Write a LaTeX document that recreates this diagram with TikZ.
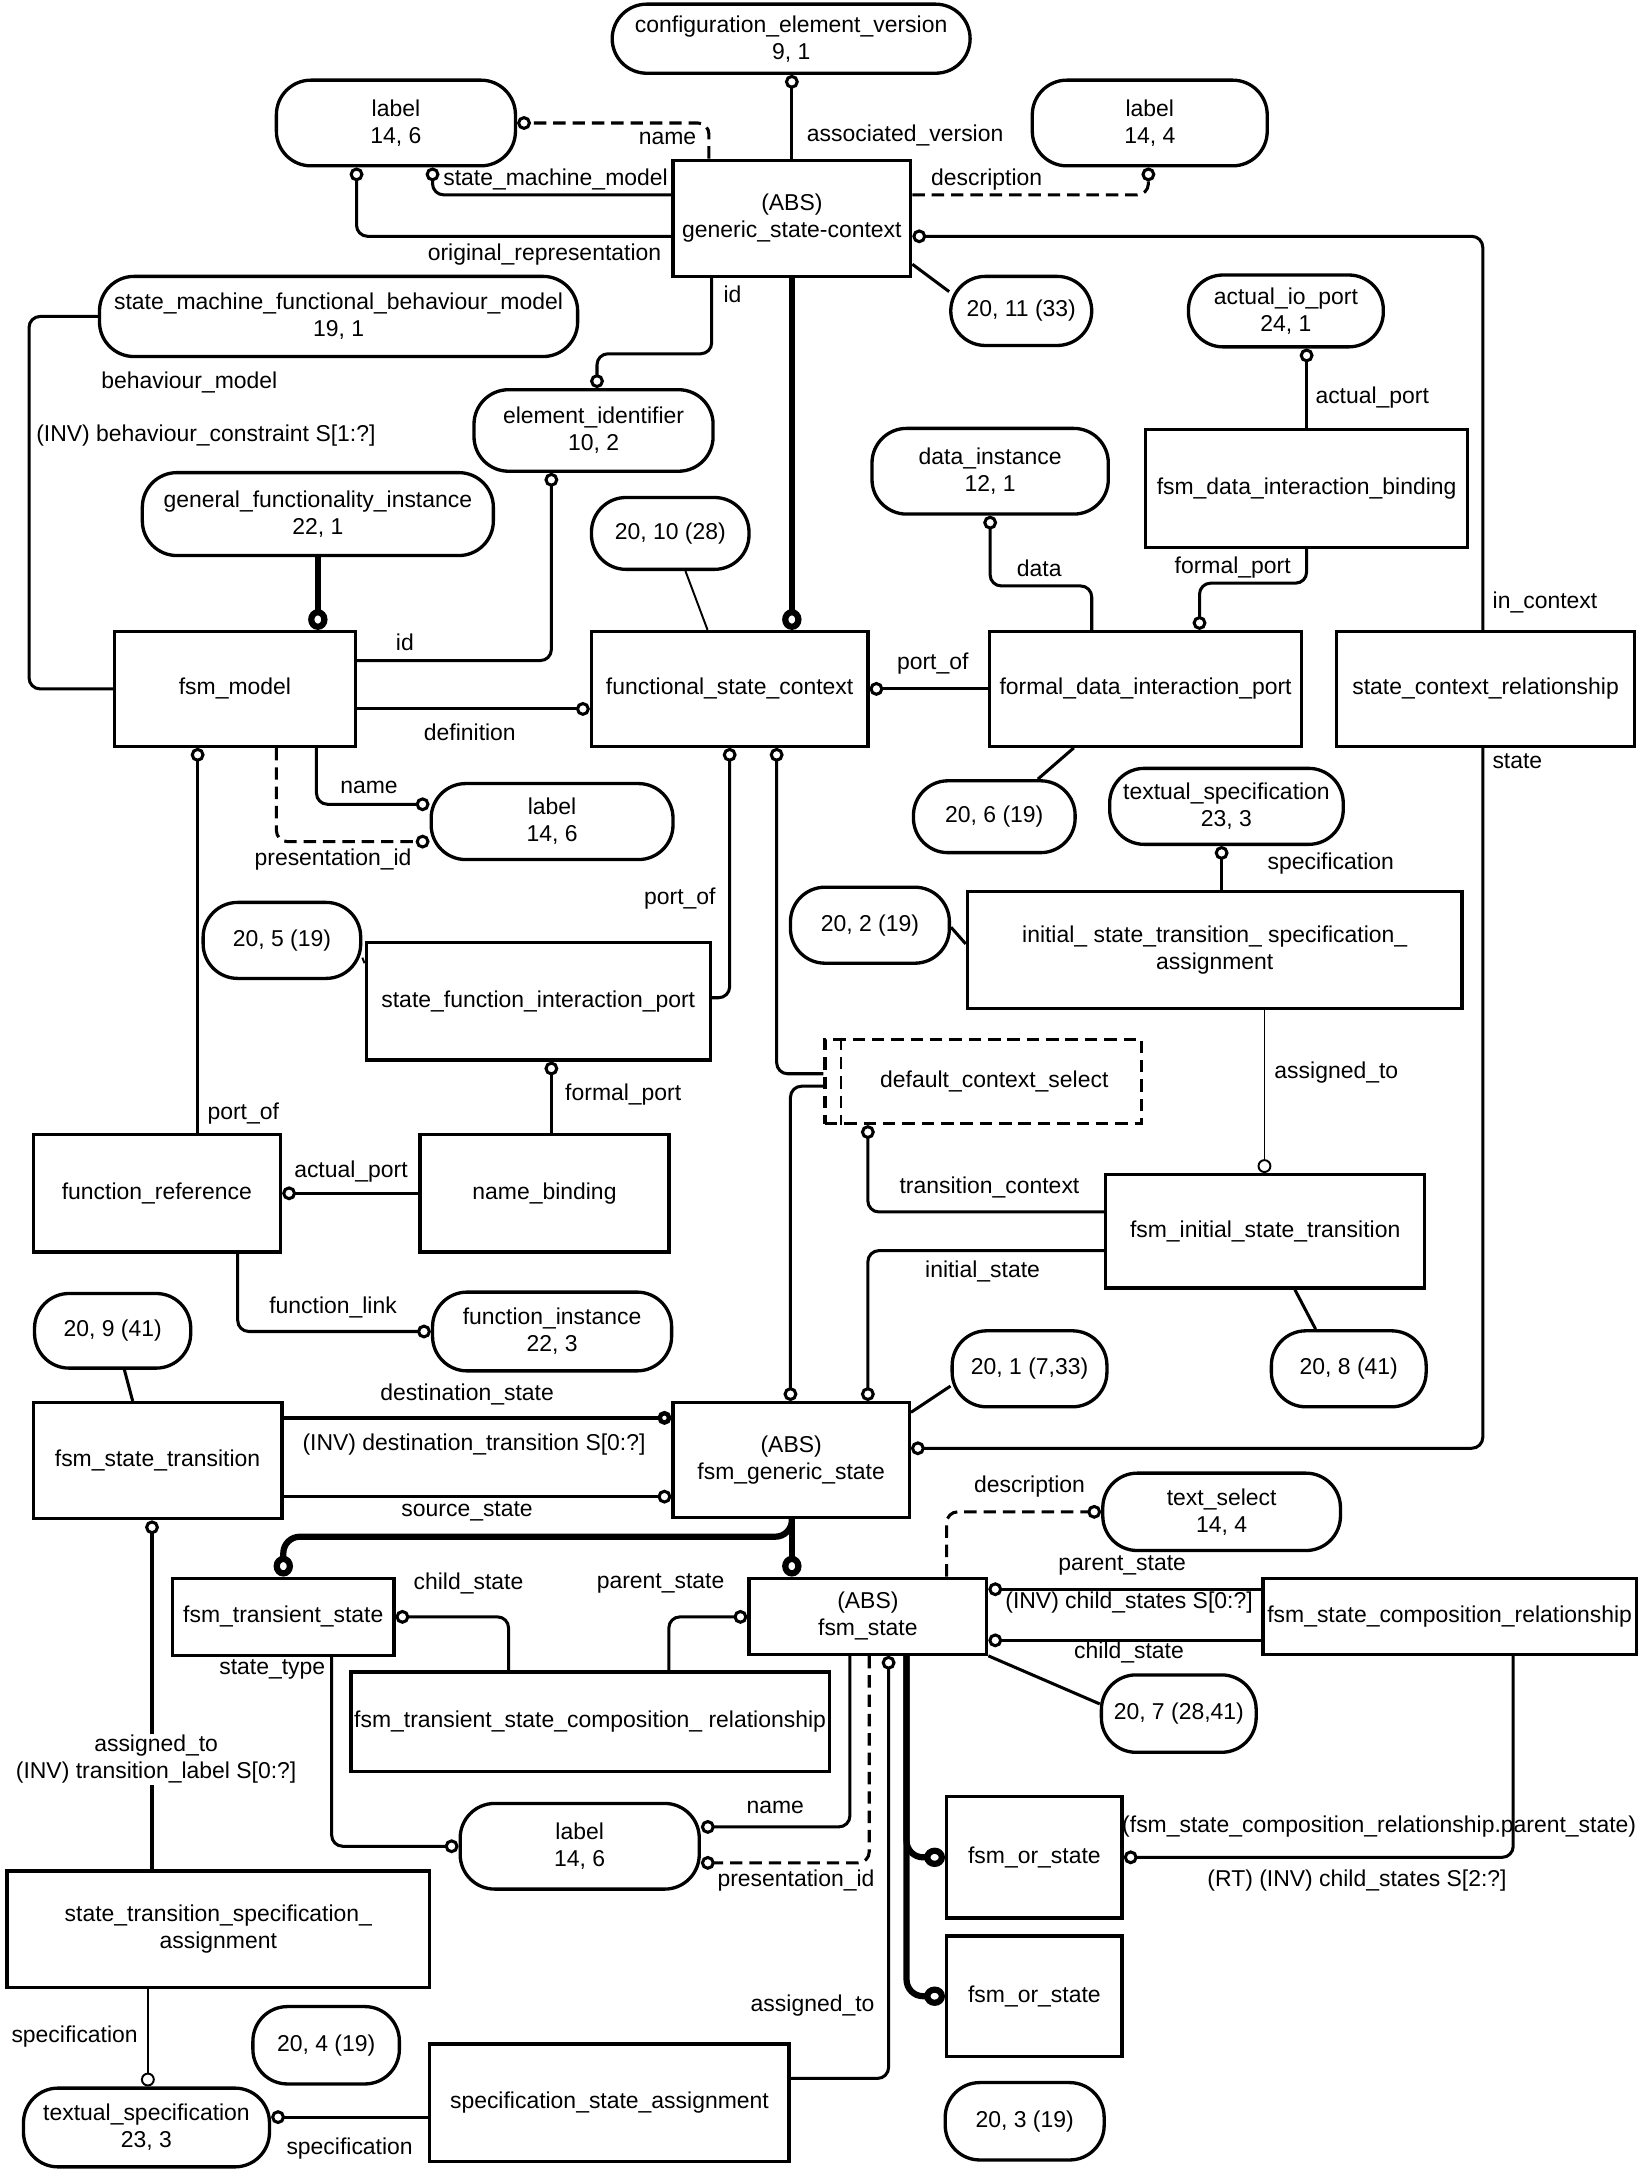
\documentclass[tikz,border=0pt]{standalone}
\usepackage{fontspec}
\setmainfont{Liberation Sans}
\usetikzlibrary{arrows.meta}
\begin{document}
\begin{tikzpicture}[x=1pt,y=-1pt,
  font=\fontsize{16.6pt}{19.5pt}\selectfont,
  ebox/.style={draw,line width=2.4pt,rectangle,align=center,inner sep=1pt},
  pill/.style={draw,line width=2.4pt,rounded corners=25pt,align=center,inner sep=1pt},
  conn/.style={line width=2.2pt,rounded corners=8pt},
  thinl/.style={line width=1.4pt,rounded corners=8pt},
  medl/.style={line width=3.2pt},
  thickl/.style={line width=4.5pt,rounded corners=12pt},
  dsh/.style={dash pattern=on 9pt off 5pt},
  oc/.style={-{Circle[open,length=10pt,width=10pt]}},
  toc/.style={-{Circle[open,length=15pt,width=14pt]}},
  lbl/.style={inner sep=1pt},
]
\useasboundingbox (0,0) rectangle (1188,1571);

% ---------- entity pills ----------
\node[pill,minimum width=259pt,minimum height=50pt] (cev) at (572.5,28) {configuration\_element\_version\\9, 1};
\node[pill,minimum width=173pt,minimum height=62pt] (lbl1) at (286.5,89) {label\\14, 6};
\node[pill,minimum width=170pt,minimum height=62pt] (lbl2) at (832,89) {label\\14, 4};
\node[pill,minimum width=102pt,minimum height=50pt] (p2011) at (739,225) {20, 11 (33)};
\node[pill,minimum width=346pt,minimum height=58pt] (smfbm) at (245,229) {state\_machine\_functional\_behaviour\_model\\19, 1};
\node[pill,minimum width=141pt,minimum height=52pt] (aiop) at (930.5,225) {actual\_io\_port\\24, 1};
\node[pill,minimum width=173pt,minimum height=59pt] (eid) at (429.5,311.5) {element\_identifier\\10, 2};
\node[pill,minimum width=254pt,minimum height=60pt] (gfi) at (230,372) {general\_functionality\_instance\\22, 1};
\node[pill,minimum width=171pt,minimum height=62pt] (dinst) at (716.5,341) {data\_instance\\12, 1};
\node[pill,minimum width=114pt,minimum height=52pt] (p2010) at (485,386) {20, 10 (28)};
\node[pill,minimum width=117pt,minimum height=52pt] (p206) at (719.5,591) {20, 6 (19)};
\node[pill,minimum width=175pt,minimum height=55pt] (lbl3) at (399.5,594.5) {label\\14, 6};
\node[pill,minimum width=169pt,minimum height=55pt] (ts1) at (887.5,583.5) {textual\_specification\\23, 3};
\node[pill,minimum width=114pt,minimum height=55pt] (p205) at (204,680.5) {20, 5 (19)};
\node[pill,minimum width=115pt,minimum height=55pt] (p202) at (629.5,669.5) {20, 2 (19)};
\node[pill,minimum width=173pt,minimum height=57pt] (fi) at (399.5,963.5) {function\_instance\\22, 3};
\node[pill,minimum width=113pt,minimum height=54pt] (p209) at (81.5,963) {20, 9 (41)};
\node[pill,minimum width=112pt,minimum height=55pt] (p201) at (745,990.5) {20, 1 (7,33)};
\node[pill,minimum width=112pt,minimum height=55pt] (p208) at (976,990.5) {20, 8 (41)};
\node[pill,minimum width=172pt,minimum height=56pt] (tsel) at (884,1094) {text\_select\\14, 4};
\node[pill,minimum width=112pt,minimum height=56pt] (p207) at (853,1240) {20, 7 (28,41)};
\node[pill,minimum width=173pt,minimum height=62pt] (lbl4) at (419.5,1336) {label\\14, 6};
\node[pill,minimum width=106pt,minimum height=56pt] (p204) at (236,1480) {20, 4 (19)};
\node[pill,minimum width=115pt,minimum height=56pt] (p203) at (741.5,1535) {20, 3 (19)};
\node[pill,minimum width=178pt,minimum height=57pt] (ts2) at (106,1539.5) {textual\_specification\\23, 3};

% ---------- entity boxes ----------
\node[ebox,minimum width=172pt,minimum height=84pt] (gsc) at (573,158) {(ABS)\\generic\_state-context};
\node[ebox,minimum width=233pt,minimum height=85pt] (fdib) at (945.5,353.5) {fsm\_data\_interaction\_binding};
\node[ebox,minimum width=174pt,minimum height=83pt] (fsmm) at (170,498.5) {fsm\_model};
\node[ebox,minimum width=200pt,minimum height=83pt] (fsc) at (528,498.5) {functional\_state\_context};
\node[ebox,minimum width=226pt,minimum height=83pt] (fdip) at (829,498.5) {formal\_data\_interaction\_port};
\node[ebox,minimum width=216pt,minimum height=83pt] (scr) at (1075,498.5) {state\_context\_relationship};
\node[ebox,minimum width=358pt,minimum height=85pt] (istsa) at (879,687.5) {initial\_ state\_transition\_ specification\_\\assignment};
\node[ebox,minimum width=249pt,minimum height=85pt] (sfip) at (389.5,724.5) {state\_function\_interaction\_port};
\node[ebox,dsh,minimum width=229pt,minimum height=61pt] (dcs) at (711.5,782.5) {\hspace*{16pt}default\_context\_select};
\draw[line width=1.5pt,dsh] ([xshift=13pt]dcs.north west) -- ([xshift=13pt]dcs.south west);
\node[ebox,minimum width=179pt,minimum height=85pt] (fr) at (113.5,863.5) {function\_reference};
\node[ebox,minimum width=180pt,minimum height=85pt] (nb) at (394,863.5) {name\_binding};
\node[ebox,minimum width=231pt,minimum height=82pt] (fist) at (915.5,891) {fsm\_initial\_state\_transition};
\node[ebox,minimum width=180pt,minimum height=84pt] (fst) at (114,1057) {fsm\_state\_transition};
\node[ebox,minimum width=171pt,minimum height=83pt] (fgs) at (572.5,1056.5) {(ABS)\\fsm\_generic\_state};
\node[ebox,minimum width=160pt,minimum height=56pt] (ftrs) at (205,1170) {fsm\_transient\_state};
\node[ebox,minimum width=172pt,minimum height=55pt] (fs) at (628,1169.5) {(ABS)\\fsm\_state};
\node[ebox,minimum width=270pt,minimum height=55pt] (fscr) at (1049,1169.5) {fsm\_state\_composition\_relationship};
\node[ebox,minimum width=346pt,minimum height=72pt] (ftscr) at (427,1246) {fsm\_transient\_state\_composition\_ relationship};
\node[ebox,minimum width=127pt,minimum height=88pt] (fos1) at (748.5,1344) {fsm\_or\_state};
\node[ebox,minimum width=127pt,minimum height=87pt] (fos2) at (748.5,1444.5) {fsm\_or\_state};
\node[ebox,minimum width=306pt,minimum height=84pt] (stsa) at (158,1396) {state\_transition\_specification\_\\assignment};
\node[ebox,minimum width=260pt,minimum height=85pt] (ssa) at (441,1521.5) {specification\_state\_assignment};

% ---------- connectors ----------
\draw[conn,oc] (gsc.north) -- (gsc.north |- cev.south);
\draw[conn,dsh,oc] (513,0 |- gsc.north) |- (lbl1.east);
\draw[conn,oc] (gsc.west |- 0,141) -| (313,0 |- lbl1.south);
\draw[conn,oc] (gsc.west |- 0,171) -| (258,0 |- lbl1.south);
\draw[conn,dsh,oc] (gsc.east |- 0,141) -| (831,0 |- lbl2.south);
\draw[conn,oc] (1073,0 |- scr.north) |- (gsc.east |- 0,171);
\draw[conn] ([yshift=10pt]gsc.south east) -- (p2011.165);
\draw[thickl,toc] (gsc.south) -- (gsc.south |- fsc.north);
\draw[conn,oc] (515,0 |- gsc.south) |- (432,256) -- (432,0 |- eid.north);
\draw[conn] (smfbm.west) -| (21,498.5) -- (fsmm.west);
\draw[thickl,toc] (gfi.south) -- (gfi.south |- fsmm.north);
\draw[conn,oc] (fsmm.east |- 0,478) -| (399,0 |- eid.south);
\draw[thinl] (496,0 |- p2010.south) -- (512,0 |- fsc.north);
\draw[conn,oc] (fsmm.east |- 0,513) -- (fsc.west |- 0,513);
\draw[conn,oc] (fdip.west) -- (fsc.east);
\draw[conn,oc] (790,0 |- fdip.north) |- (dinst.south |- 0,424) -- (dinst.south);
\draw[conn,oc] (fdib.south) |- (868,422) -- (868,0 |- fdip.north);
\draw[conn,oc] (fdib.north) -- (fdib.north |- aiop.south);
\draw[conn] (777,0 |- fdip.south) -- (751,0 |- p206.north);
\draw[conn,oc] (1073,0 |- scr.south) |- (fgs.east |- 0,1048);
\draw[conn,oc] (143,0 |- fr.north) -- (143,0 |- fsmm.south);
\draw[conn,oc] (229,0 |- fsmm.south) |- (lbl3.west |- 0,582);
\draw[conn,dsh,oc] (200,0 |- fsmm.south) |- (lbl3.west |- 0,609);
\draw[conn,oc] (sfip.east |- 0,722) -| (528,0 |- fsc.south);
\draw[conn,oc] (dcs.west |- 0,777) -| (562,0 |- fsc.south);
\draw[conn,oc] (dcs.west |- 0,786) -| (572,0 |- fgs.north);
\draw[conn,oc] (399,0 |- nb.north) -- (399,0 |- sfip.south);
\draw[conn,oc] (nb.west) -- (fr.east);
\draw[conn,oc] (172,0 |- fr.south) |- (fi.west);
\draw[thinl] (p205.east |- 0,693) -- (sfip.west |- 0,697);
\draw[conn,oc] (884,0 |- istsa.north) -- (884,0 |- ts1.south);
\draw[conn] (p202.east |- 0,671) -- (istsa.west |- 0,683);
\draw[thinl,oc] (915,0 |- istsa.south) -- (915,0 |- fist.north);
\draw[conn,oc] (fist.west |- 0,877) -| (628,0 |- dcs.south);
\draw[conn,oc] (fist.west |- 0,905) -| (628,0 |- fgs.north);
\draw[conn] (937,0 |- fist.south) -- (952,0 |- p208.north);
\draw[conn] (fgs.east |- 0,1022) -- (p201.west |- 0,1003);
\draw[conn] (90,0 |- p209.south) -- (96,0 |- fst.north);
\draw[medl,oc] (fst.east |- 0,1026) -- (fgs.west |- 0,1026);
\draw[conn,oc] (fst.east |- 0,1083) -- (fgs.west |- 0,1083);
\draw[thickl,toc] (573,0 |- fgs.south) -- (573,0 |- fs.north);
\draw[thickl,toc] (573,0 |- fgs.south) |- (205,1112) -- (ftrs.north);
\draw[conn,oc] (368,0 |- ftscr.north) |- (ftrs.east);
\draw[conn,oc] (484,0 |- ftscr.north) |- (fs.west |- 0,1170);
\draw[conn,oc] (240,0 |- ftrs.south) |- (lbl4.west);
\draw[conn,oc] (615,0 |- fs.south) |- (lbl4.east |- 0,1322);
\draw[conn,dsh,oc] (629,0 |- fs.south) |- (lbl4.east |- 0,1348);
\draw[conn,oc] (ssa.east |- 0,1504) -| (643,0 |- fs.south);
\draw[thickl,toc] (656,0 |- fs.south) |- (fos1.west);
\draw[thickl,toc] (656,0 |- fs.south) |- (fos2.west);
\draw[conn,dsh,oc] (685,0 |- fs.north) |- (tsel.west);
\draw[conn,oc] (fscr.west |- 0,1150) -- (fs.east |- 0,1150);
\draw[conn,oc] (fscr.west |- 0,1187) -- (fs.east |- 0,1187);
\draw[conn] (fs.south east) -- (p207.west |- 0,1233);
\draw[conn,oc] (1095,0 |- fscr.south) |- (fos1.east);
\draw[conn,oc] (110,0 |- stsa.north) -- (110,0 |- fst.south);
\draw[thinl,oc] (107,0 |- stsa.south) -- (107,0 |- ts2.north);
\draw[conn,oc] (ssa.west |- 0,1532) -- (ts2.east |- 0,1532);

% ---------- role labels ----------
\node[lbl] (t1) at (655,98) {associated\_version};
\node[lbl] (t2) at (483,100) {name};
\node[lbl] (t3) at (402,130) {state\_machine\_model};
\node[lbl] (t4) at (394,184) {original\_representation};
\node[lbl] (t5) at (714,130) {description};
\node[lbl] (t6) at (530,213) {id};
\node[lbl] (t7) at (137,277) {behaviour\_model};
\node[lbl] (t8) at (149,315) {(INV) behaviour\_constraint S[1:?]};
\node[lbl] (t9) at (993,288) {actual\_port};
\node[lbl] (t10) at (752,411) {data};
\node[lbl] (t11) at (892,411) {formal\_port};
\node[lbl] (t12) at (1118,436) {in\_context};
\node[lbl] (t13) at (293,465) {id};
\node[lbl] (t14) at (675,480) {port\_of};
\node[lbl] (t15) at (340,530) {definition};
\node[lbl] (t16) at (1098,551) {state};
\node[lbl] (t17) at (267,570) {name};
\node[lbl] (t18) at (241,622) {presentation\_id};
\node[lbl] (t19) at (963,625) {specification};
\node[lbl] (t20) at (492,650) {port\_of};
\node[lbl] (t21) at (967,776) {assigned\_to};
\node[lbl] (t22) at (451,792) {formal\_port};
\node[lbl] (t23) at (176,806) {port\_of};
\node[lbl] (t24) at (254,848) {actual\_port};
\node[lbl] (t25) at (716,859) {transition\_context};
\node[lbl] (t26) at (711,920) {initial\_state};
\node[lbl] (t27) at (241,946) {function\_link};
\node[lbl] (t28) at (338,1009) {destination\_state};
\node[lbl] (t29) at (343,1045) {(INV) destination\_transition S[0:?]};
\node[lbl] (t30) at (338,1094) {source\_state};
\node[lbl] (t31) at (745,1076) {description};
\node[lbl] (t32) at (339,1146) {child\_state};
\node[lbl] (t33) at (478,1146) {parent\_state};
\node[lbl] (t34) at (812,1133) {parent\_state};
\node[lbl] (t35) at (817,1160) {(INV) child\_states S[0:?]};
\node[lbl] (t36) at (817,1196) {child\_state};
\node[lbl] (t37) at (197,1208) {state\_type};
\node[lbl,fill=white,align=center] (t38) at (113,1273) {assigned\_to\\(INV) transition\_label S[0:?]};
\node[lbl] (t39) at (561,1308) {name};
\node[lbl] (t40) at (998,1322) {(fsm\_state\_composition\_relationship.parent\_state)};
\node[lbl] (t41) at (576,1361) {presentation\_id};
\node[lbl] (t42) at (982,1361) {(RT) (INV) child\_states S[2:?]};
\node[lbl] (t43) at (588,1451) {assigned\_to};
\node[lbl] (t44) at (54,1474) {specification};
\node[lbl] (t45) at (253,1555) {specification};
\end{tikzpicture}
\end{document}
